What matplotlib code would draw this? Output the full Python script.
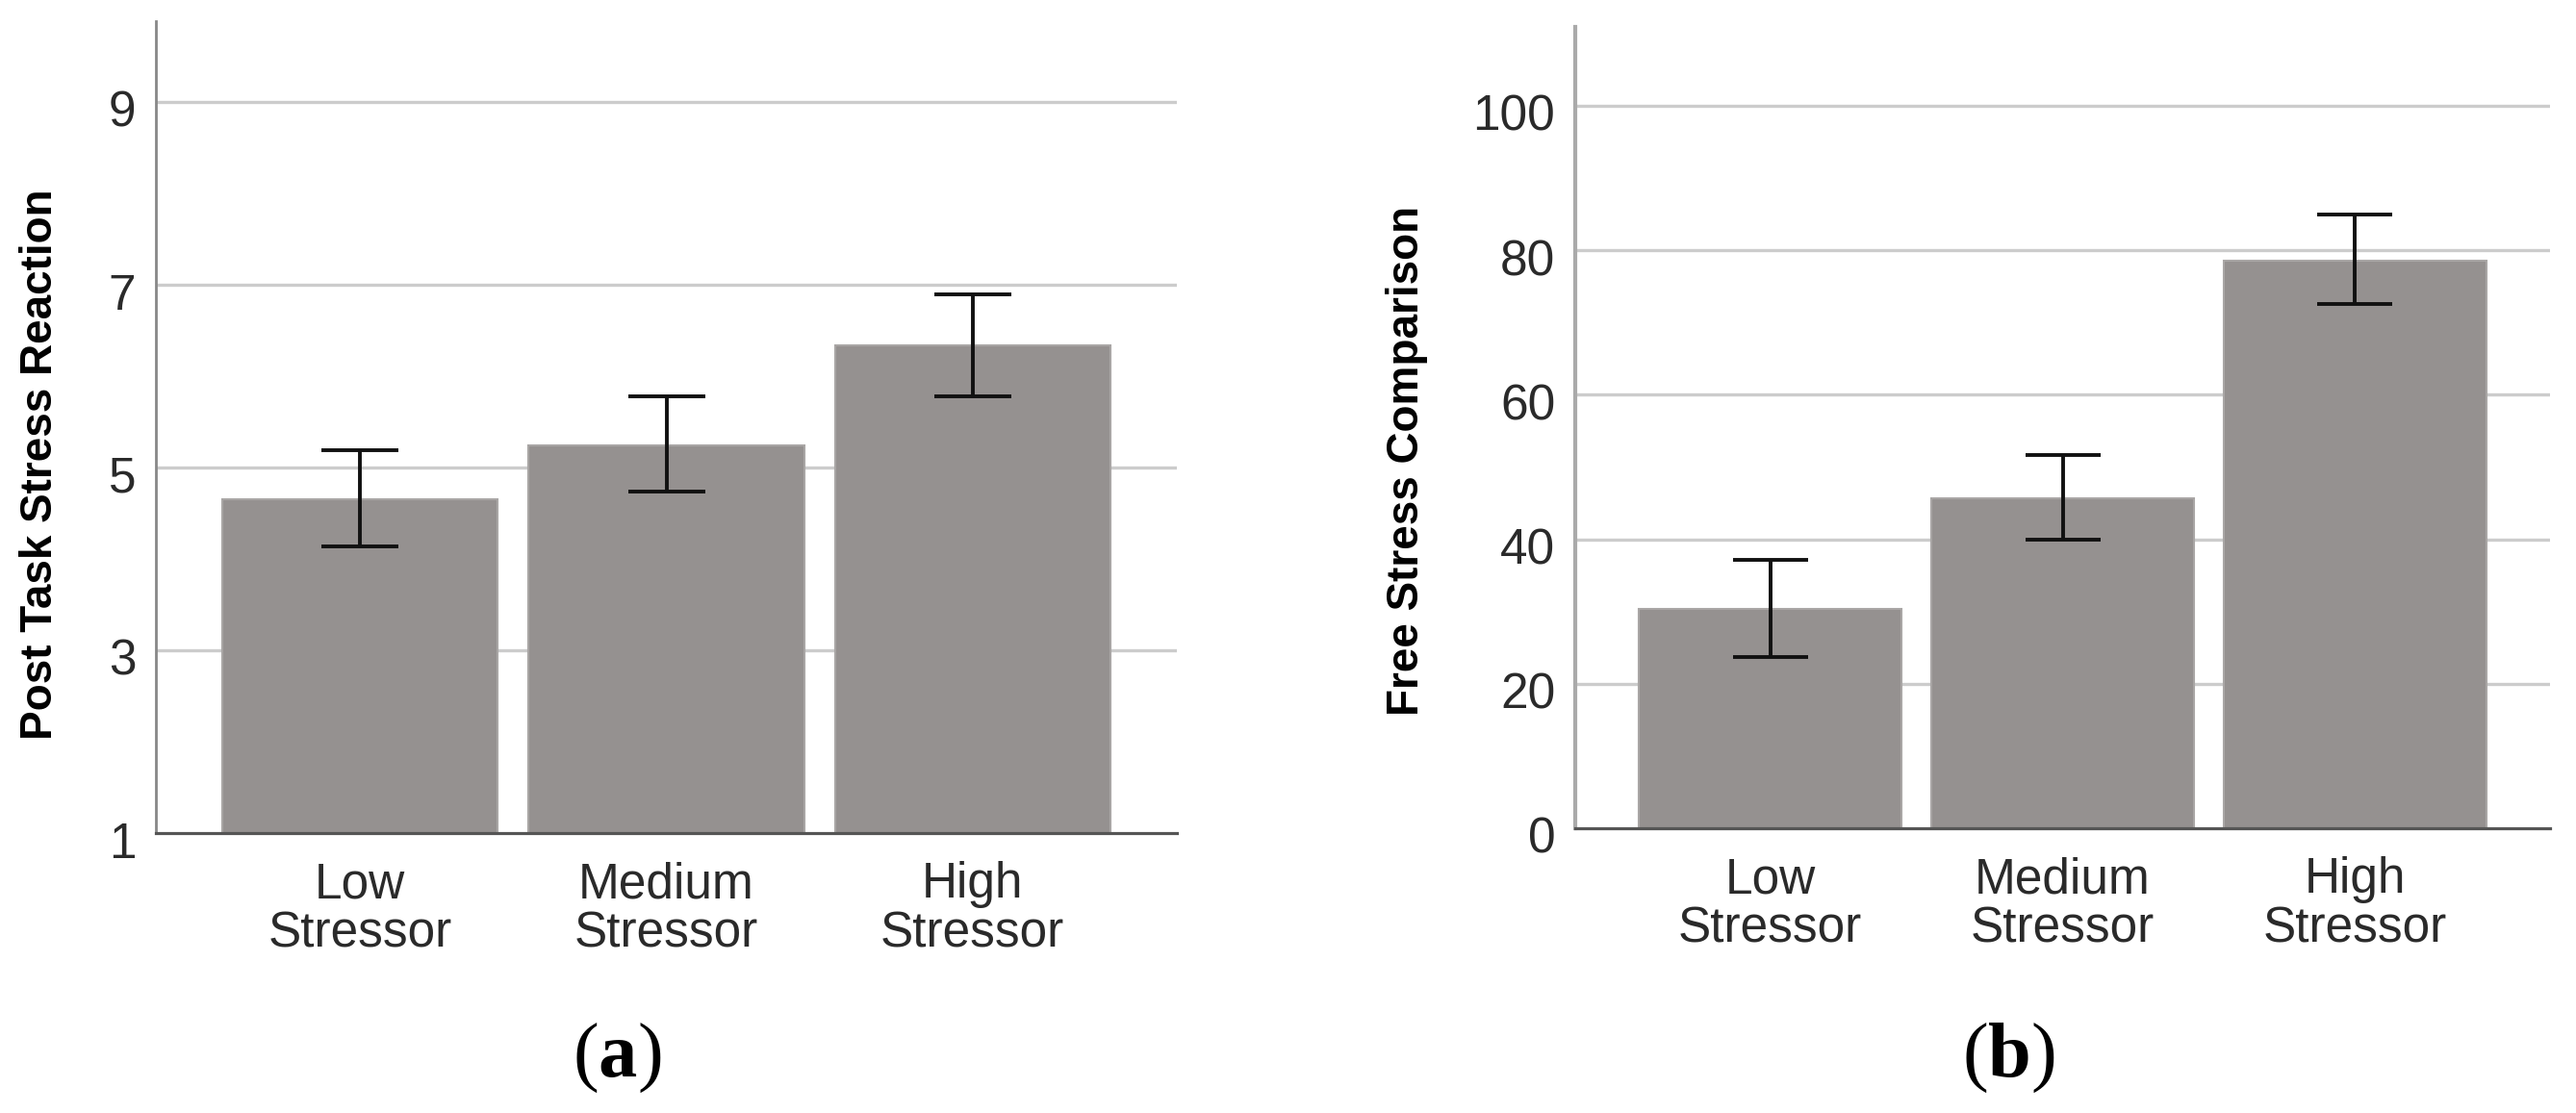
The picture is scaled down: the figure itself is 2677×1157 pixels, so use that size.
import numpy as np
import matplotlib.pyplot as plt
from matplotlib.transforms import ScaledTranslation

groups = ["Low\nStressor", "Medium\nStressor", "High\nStressor"]

# panel (a): post task stress reaction, means with CI bounds
reaction_mean = [4.65, 5.24, 6.33]
reaction_low = [4.14, 4.74, 5.78]
reaction_high = [5.19, 5.78, 6.89]
reaction_ticks = [1, 3, 5, 7, 9]

# panel (b): free stress comparison
comparison_mean = [30.4, 45.7, 78.6]
comparison_low = [23.7, 40.0, 72.5]
comparison_high = [37.2, 51.6, 84.9]
comparison_ticks = [0, 20, 40, 60, 80, 100]

plt.rcParams['font.family'] = ['Liberation Sans', 'DejaVu Sans']
plt.rcParams['mathtext.fontset'] = 'custom'
plt.rcParams['mathtext.rm'] = 'Liberation Serif'
plt.rcParams['mathtext.bf'] = 'Liberation Serif:bold'

W, H = 2677, 1157
fig = plt.figure(figsize=(W / 100, H / 100), dpi=100)

bar_color = '#959190'
tick_color = '#2a2a2a'


def px_axes(x0, y0, x1, y1):
    return fig.add_axes([x0 / W, 1 - y1 / H, (x1 - x0) / W, (y1 - y0) / H])


def draw_panel(ax, means, lows, highs, ticks, ylim, spine_col, spine_lw, cap):
    x = np.arange(len(groups))
    means = np.array(means)
    base = ylim[0]
    err = [means - np.array(lows), np.array(highs) - means]
    ax.bar(x, means - base, bottom=base, width=0.9, color=bar_color,
           edgecolor='#a9a6a5', linewidth=1.5, zorder=2)
    ax.errorbar(x, means, yerr=err, fmt='none', ecolor='#111111',
                elinewidth=2.8, capsize=cap, capthick=2.8, zorder=3)
    ax.set_xlim(-0.667, 2.667)
    ax.set_ylim(*ylim)
    ax.set_yticks(ticks)
    ax.set_xticks(x)
    ax.set_xticklabels(groups, fontsize=37, color=tick_color, linespacing=1.05)
    ax.tick_params(axis='both', length=0, labelsize=37, labelcolor=tick_color)
    ax.tick_params(axis='y', pad=15)
    ax.tick_params(axis='x', pad=21)
    for t in ticks[1:]:
        ax.axhline(t, color='#cccccc', lw=2.4, zorder=1)
    for s in ['top', 'right']:
        ax.spines[s].set_visible(False)
    ax.spines['left'].set_color(spine_col)
    ax.spines['left'].set_linewidth(spine_lw)
    ax.spines['bottom'].set_color('#555555')
    ax.spines['bottom'].set_linewidth(2.3)
    ax.spines['bottom'].set_zorder(4)
    off = ScaledTranslation(0, -5 / 72, fig.dpi_scale_trans)
    for lab in ax.get_yticklabels():
        lab.set_transform(lab.get_transform() + off)


ax1 = px_axes(162, 22, 1223, 866)
draw_panel(ax1, reaction_mean, reaction_low, reaction_high, reaction_ticks,
           (1, 9.88), '#888888', 2.0, 29)

ax2 = px_axes(1637, 28, 2650, 861)
draw_panel(ax2, comparison_mean, comparison_low, comparison_high, comparison_ticks,
           (0, 110.9), '#aaaaaa', 3.0, 28)

fig.text(42 / W, 1 - 483 / H, "Post Task Stress Reaction", rotation=90,
         fontsize=33, fontweight='bold', ha='center', va='center')
fig.text(1462 / W, 1 - 479 / H, "Free Stress Comparison", rotation=90,
         fontsize=33, fontweight='bold', ha='center', va='center')

fig.text(641 / W, 1 - 1100 / H, r"($\mathbf{a}$)", fontsize=58,
         family='Liberation Serif', ha='center', va='center')
fig.text(2087 / W, 1 - 1100 / H, r"($\mathbf{b}$)", fontsize=58,
         family='Liberation Serif', ha='center', va='center')

fig.savefig("out.png", dpi=100, facecolor='white')
